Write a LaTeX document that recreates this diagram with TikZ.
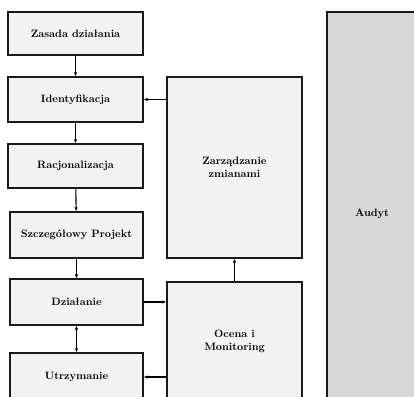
\documentclass[tikz,border=0pt]{standalone}
\usepackage{tikz}
\usetikzlibrary{arrows.meta}
\definecolor{boxgray}{HTML}{F2F2F2}
\definecolor{audgray}{HTML}{D8D8D8}
\tikzset{
  stage/.style={draw=black!90,line width=1.3pt,fill=boxgray,
    minimum width=135pt,minimum height=45pt,inner sep=0pt,
    align=center,font=\fontsize{10.7}{13}\selectfont\bfseries},
  arr/.style={line width=1.1pt,-{Latex[length=4pt,width=3.5pt]}}
}
\begin{document}
\begin{tikzpicture}[x=1pt,y=1pt]
  \useasboundingbox (0,0) rectangle (414,-396);
  \clip (0,0) rectangle (414,-396);
  % left column
  \node[stage,minimum height=43pt] (zasada) at (75.5,-33.5) {Zasada działania};
  \node[stage] (ident) at (75.5,-99.5) {Identyfikacja};
  \node[stage,minimum height=44pt] (racj) at (75.5,-166) {Racjonalizacja};
  \node[stage,minimum width=133pt,minimum height=46pt] (szcz) at (76.5,-235) {Szczegółowy Projekt};
  \node[stage,minimum width=133pt,minimum height=46pt] (dzial) at (76.5,-302) {Działanie};
  \node[stage,minimum width=133pt,minimum height=48pt] (utrz) at (76.5,-377) {Utrzymanie};
  % middle column
  \node[stage,minimum height=181pt] (zarz) at (234.5,-167.5) {Zarządzanie\\zmianami};
  \node[stage,minimum height=118pt] (ocena) at (234.5,-341) {Ocena i\\Monitoring};
  % audit
  \node[stage,fill=audgray,minimum width=90pt,minimum height=404pt] (audyt) at (372,-214) {Audyt};
  % arrows
  \draw[arr] (zasada) -- (ident);
  \draw[arr] (ident) -- (racj);
  \draw[arr] (racj) -- (szcz);
  \draw[arr] (szcz) -- (dzial);
  \draw[line width=1.1pt,{Latex[length=4pt,width=3.5pt]}-{Latex[length=4pt,width=3.5pt]}] (dzial) -- (utrz);
  \draw[arr] (zarz.west |- ident.east) -- (ident.east);
  \draw[arr] (dzial.east) -- (dzial.east -| ocena.west);
  \draw[arr] (utrz.east -| ocena.west) -- (utrz.east);
  \draw[arr] (ocena) -- (zarz);
\end{tikzpicture}
\end{document}
